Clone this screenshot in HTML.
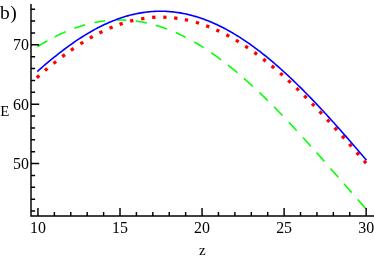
<!DOCTYPE html>
<html><head><meta charset="utf-8"><style>
html,body{margin:0;padding:0;background:#fff;}
svg{display:block;will-change:transform;}
text{font-family:"Liberation Serif",serif;fill:#000;}
</style></head><body>
<svg width="374" height="259" viewBox="0 0 374 259">
<rect width="374" height="259" fill="#fff"/>

<path d="M37.40,46.75 L39.05,45.72 L40.70,44.70 L42.35,43.71 L44.00,42.73 L45.65,41.77 L47.30,40.83 M54.60,36.91 L56.19,36.10 L57.77,35.32 L59.36,34.56 L60.94,33.81 L62.53,33.08 L64.11,32.37 L65.70,31.69 M74.40,28.24 L75.93,27.70 L77.46,27.17 L78.99,26.66 L80.51,26.17 L82.04,25.70 L83.57,25.25 L85.10,24.81 M94.50,22.55 L96.04,22.24 L97.59,21.96 L99.13,21.69 L100.67,21.45 L102.21,21.22 L103.76,21.01 L105.30,20.82 M117.00,20.02 L118.57,19.99 L120.13,19.99 L121.70,20.01 L123.27,20.04 L124.83,20.10 L126.40,20.18 M135.80,21.05 L137.39,21.27 L138.97,21.51 L140.56,21.76 L142.14,22.04 L143.73,22.34 L145.31,22.66 L146.90,23.00 M155.70,25.24 L157.31,25.71 L158.93,26.21 L160.54,26.73 L162.16,27.26 L163.77,27.82 L165.39,28.40 L167.00,28.99 M175.70,32.55 L177.37,33.29 L179.03,34.06 L180.70,34.85 L182.37,35.65 L184.03,36.48 L185.70,37.33 M194.10,41.89 L195.70,42.82 L197.30,43.76 L198.90,44.72 L200.50,45.70 L202.10,46.70 L203.70,47.71 M211.30,52.75 L212.93,53.88 L214.57,55.03 L216.20,56.20 L217.83,57.38 L219.47,58.58 L221.10,59.79 M228.00,65.10 L229.57,66.34 L231.13,67.60 L232.70,68.87 L234.27,70.16 L235.83,71.46 L237.40,72.77 M243.90,78.35 L245.68,79.92 L247.46,81.50 L249.24,83.10 L251.02,84.72 L252.80,86.35 M259.40,92.52 L261.10,94.15 L262.80,95.78 L264.50,97.43 L266.20,99.09 L267.90,100.76 M274.00,106.85 L275.68,108.55 L277.36,110.27 L279.04,111.99 L280.72,113.72 L282.40,115.47 M288.80,122.19 L290.38,123.87 L291.96,125.56 L293.54,127.25 L295.12,128.95 L296.70,130.66 M303.00,137.53 L304.56,139.24 L306.12,140.96 L307.68,142.69 L309.24,144.42 L310.80,146.16 M316.50,152.54 L318.08,154.31 L319.66,156.09 L321.24,157.88 L322.82,159.67 L324.40,161.46 M330.50,168.39 L332.06,170.17 L333.62,171.95 L335.18,173.73 L336.74,175.52 L338.30,177.30 M344.00,183.82 L345.54,185.58 L347.08,187.34 L348.62,189.11 L350.16,190.87 L351.70,192.63 M357.80,199.58 L359.42,201.43 L361.04,203.27 L362.66,205.10 L364.28,206.94 L365.90,208.77" fill="none" stroke="#00ff00" stroke-width="1.55"/>
<rect x="-1.65" y="-1.65" width="3.3" height="3.3" fill="#ff0000" transform="translate(38.05,76.59) rotate(-41.5)"/>
<rect x="-1.65" y="-1.65" width="3.3" height="3.3" fill="#ff0000" transform="translate(46.20,69.54) rotate(-40.2)"/>
<rect x="-1.65" y="-1.65" width="3.3" height="3.3" fill="#ff0000" transform="translate(54.80,62.45) rotate(-38.7)"/>
<rect x="-1.65" y="-1.65" width="3.3" height="3.3" fill="#ff0000" transform="translate(63.60,55.62) rotate(-36.9)"/>
<rect x="-1.65" y="-1.65" width="3.3" height="3.3" fill="#ff0000" transform="translate(72.30,49.33) rotate(-34.9)"/>
<rect x="-1.65" y="-1.65" width="3.3" height="3.3" fill="#ff0000" transform="translate(81.80,43.01) rotate(-32.3)"/>
<rect x="-1.65" y="-1.65" width="3.3" height="3.3" fill="#ff0000" transform="translate(91.30,37.32) rotate(-29.5)"/>
<rect x="-1.65" y="-1.65" width="3.3" height="3.3" fill="#ff0000" transform="translate(100.90,32.23) rotate(-26.3)"/>
<rect x="-1.65" y="-1.65" width="3.3" height="3.3" fill="#ff0000" transform="translate(111.10,27.60) rotate(-22.5)"/>
<rect x="-1.65" y="-1.65" width="3.3" height="3.3" fill="#ff0000" transform="translate(121.10,23.85) rotate(-18.5)"/>
<rect x="-1.65" y="-1.65" width="3.3" height="3.3" fill="#ff0000" transform="translate(131.70,20.78) rotate(-13.9)"/>
<rect x="-1.65" y="-1.65" width="3.3" height="3.3" fill="#ff0000" transform="translate(142.80,18.55) rotate(-8.7)"/>
<rect x="-1.65" y="-1.65" width="3.3" height="3.3" fill="#ff0000" transform="translate(153.80,17.37) rotate(-3.5)"/>
<rect x="-1.65" y="-1.65" width="3.3" height="3.3" fill="#ff0000" transform="translate(164.90,17.22) rotate(1.9)"/>
<rect x="-1.65" y="-1.65" width="3.3" height="3.3" fill="#ff0000" transform="translate(175.80,18.08) rotate(7.1)"/>
<rect x="-1.65" y="-1.65" width="3.3" height="3.3" fill="#ff0000" transform="translate(186.50,19.90) rotate(12.1)"/>
<rect x="-1.65" y="-1.65" width="3.3" height="3.3" fill="#ff0000" transform="translate(197.50,22.76) rotate(16.9)"/>
<rect x="-1.65" y="-1.65" width="3.3" height="3.3" fill="#ff0000" transform="translate(207.70,26.28) rotate(21.1)"/>
<rect x="-1.65" y="-1.65" width="3.3" height="3.3" fill="#ff0000" transform="translate(217.80,30.58) rotate(24.9)"/>
<rect x="-1.65" y="-1.65" width="3.3" height="3.3" fill="#ff0000" transform="translate(227.80,35.60) rotate(28.4)"/>
<rect x="-1.65" y="-1.65" width="3.3" height="3.3" fill="#ff0000" transform="translate(237.30,41.06) rotate(31.3)"/>
<rect x="-1.65" y="-1.65" width="3.3" height="3.3" fill="#ff0000" transform="translate(246.60,47.01) rotate(33.9)"/>
<rect x="-1.65" y="-1.65" width="3.3" height="3.3" fill="#ff0000" transform="translate(255.70,53.41) rotate(36.2)"/>
<rect x="-1.65" y="-1.65" width="3.3" height="3.3" fill="#ff0000" transform="translate(264.50,60.10) rotate(38.2)"/>
<rect x="-1.65" y="-1.65" width="3.3" height="3.3" fill="#ff0000" transform="translate(272.90,66.92) rotate(39.9)"/>
<rect x="-1.65" y="-1.65" width="3.3" height="3.3" fill="#ff0000" transform="translate(281.40,74.23) rotate(41.5)"/>
<rect x="-1.65" y="-1.65" width="3.3" height="3.3" fill="#ff0000" transform="translate(289.40,81.47) rotate(42.8)"/>
<rect x="-1.65" y="-1.65" width="3.3" height="3.3" fill="#ff0000" transform="translate(297.60,89.22) rotate(44.0)"/>
<rect x="-1.65" y="-1.65" width="3.3" height="3.3" fill="#ff0000" transform="translate(305.40,96.87) rotate(45.0)"/>
<rect x="-1.65" y="-1.65" width="3.3" height="3.3" fill="#ff0000" transform="translate(313.20,104.78) rotate(45.8)"/>
<rect x="-1.65" y="-1.65" width="3.3" height="3.3" fill="#ff0000" transform="translate(320.70,112.61) rotate(46.6)"/>
<rect x="-1.65" y="-1.65" width="3.3" height="3.3" fill="#ff0000" transform="translate(328.30,120.73) rotate(47.2)"/>
<rect x="-1.65" y="-1.65" width="3.3" height="3.3" fill="#ff0000" transform="translate(335.80,128.92) rotate(47.8)"/>
<rect x="-1.65" y="-1.65" width="3.3" height="3.3" fill="#ff0000" transform="translate(343.20,137.15) rotate(48.2)"/>
<rect x="-1.65" y="-1.65" width="3.3" height="3.3" fill="#ff0000" transform="translate(350.40,145.27) rotate(48.6)"/>
<rect x="-1.65" y="-1.65" width="3.3" height="3.3" fill="#ff0000" transform="translate(357.80,153.71) rotate(48.9)"/>
<rect x="-1.65" y="-1.65" width="3.3" height="3.3" fill="#ff0000" transform="translate(365.00,162.00) rotate(49.1)"/>
<path d="M37.30,71.53 L38.80,70.20 L40.31,68.88 L41.81,67.57 L43.31,66.27 L44.82,64.98 L46.32,63.70 L47.82,62.44 L49.33,61.18 L50.83,59.93 L52.33,58.70 L53.84,57.47 L55.34,56.26 L56.84,55.06 L58.34,53.88 L59.85,52.70 L61.35,51.54 L62.85,50.39 L64.36,49.26 L65.86,48.14 L67.36,47.03 L68.87,45.94 L70.37,44.86 L71.87,43.79 L73.38,42.74 L74.88,41.71 L76.38,40.69 L77.89,39.68 L79.39,38.69 L80.89,37.72 L82.40,36.76 L83.90,35.81 L85.40,34.89 L86.91,33.97 L88.41,33.08 L89.91,32.20 L91.42,31.34 L92.92,30.49 L94.42,29.66 L95.92,28.85 L97.43,28.05 L98.93,27.28 L100.43,26.51 L101.94,25.77 L103.44,25.04 L104.94,24.34 L106.45,23.65 L107.95,22.97 L109.45,22.32 L110.96,21.68 L112.46,21.06 L113.96,20.46 L115.47,19.88 L116.97,19.32 L118.47,18.77 L119.98,18.24 L121.48,17.74 L122.98,17.25 L124.49,16.78 L125.99,16.32 L127.49,15.89 L128.99,15.48 L130.50,15.08 L132.00,14.71 L133.50,14.35 L135.01,14.01 L136.51,13.69 L138.01,13.39 L139.52,13.11 L141.02,12.85 L142.52,12.61 L144.03,12.39 L145.53,12.19 L147.03,12.00 L148.54,11.84 L150.04,11.69 L151.54,11.57 L153.05,11.46 L154.55,11.38 L156.05,11.31 L157.56,11.26 L159.06,11.24 L160.56,11.23 L162.07,11.24 L163.57,11.27 L165.07,11.32 L166.57,11.39 L168.08,11.48 L169.58,11.59 L171.08,11.71 L172.59,11.86 L174.09,12.03 L175.59,12.21 L177.10,12.42 L178.60,12.64 L180.10,12.89 L181.61,13.15 L183.11,13.43 L184.61,13.73 L186.12,14.05 L187.62,14.39 L189.12,14.75 L190.63,15.12 L192.13,15.52 L193.63,15.93 L195.14,16.36 L196.64,16.82 L198.14,17.29 L199.65,17.77 L201.15,18.28 L202.65,18.81 L204.15,19.35 L205.66,19.91 L207.16,20.49 L208.66,21.09 L210.17,21.70 L211.67,22.34 L213.17,22.99 L214.68,23.66 L216.18,24.34 L217.68,25.05 L219.19,25.77 L220.69,26.51 L222.19,27.27 L223.70,28.04 L225.20,28.83 L226.70,29.64 L228.21,30.46 L229.71,31.30 L231.21,32.16 L232.72,33.03 L234.22,33.92 L235.72,34.83 L237.23,35.75 L238.73,36.69 L240.23,37.65 L241.73,38.62 L243.24,39.61 L244.74,40.61 L246.24,41.63 L247.75,42.66 L249.25,43.71 L250.75,44.77 L252.26,45.85 L253.76,46.94 L255.26,48.05 L256.77,49.17 L258.27,50.31 L259.77,51.46 L261.28,52.63 L262.78,53.81 L264.28,55.00 L265.79,56.21 L267.29,57.43 L268.79,58.67 L270.30,59.91 L271.80,61.17 L273.30,62.45 L274.81,63.74 L276.31,65.03 L277.81,66.35 L279.31,67.67 L280.82,69.01 L282.32,70.36 L283.82,71.72 L285.33,73.09 L286.83,74.48 L288.33,75.87 L289.84,77.28 L291.34,78.70 L292.84,80.13 L294.35,81.57 L295.85,83.02 L297.35,84.49 L298.86,85.96 L300.36,87.44 L301.86,88.94 L303.37,90.44 L304.87,91.95 L306.37,93.47 L307.88,95.01 L309.38,96.55 L310.88,98.10 L312.38,99.66 L313.89,101.23 L315.39,102.80 L316.89,104.39 L318.40,105.98 L319.90,107.58 L321.40,109.19 L322.91,110.81 L324.41,112.44 L325.91,114.07 L327.42,115.71 L328.92,117.36 L330.42,119.01 L331.93,120.67 L333.43,122.34 L334.93,124.01 L336.44,125.69 L337.94,127.38 L339.44,129.07 L340.95,130.77 L342.45,132.47 L343.95,134.18 L345.46,135.89 L346.96,137.61 L348.46,139.34 L349.96,141.07 L351.47,142.80 L352.97,144.54 L354.47,146.28 L355.98,148.03 L357.48,149.78 L358.98,151.53 L360.49,153.29 L361.99,155.05 L363.49,156.81 L365.00,158.58 L366.50,160.35" fill="none" stroke="#0000ff" stroke-width="1.6"/>
<path d="M31.0,4.0 L31.0,216.05 M30.25,216.05 L374,216.05 M31.0,211.07 L35.1,211.07 M31.0,199.19 L35.1,199.19 M31.0,187.32 L35.1,187.32 M31.0,175.44 L35.1,175.44 M31.0,163.57 L39.2,163.57 M31.0,151.70 L35.1,151.70 M31.0,139.82 L35.1,139.82 M31.0,127.95 L35.1,127.95 M31.0,116.07 L35.1,116.07 M31.0,104.20 L39.2,104.20 M31.0,92.33 L35.1,92.33 M31.0,80.45 L35.1,80.45 M31.0,68.58 L35.1,68.58 M31.0,56.70 L35.1,56.70 M31.0,44.83 L39.2,44.83 M31.0,32.96 L35.1,32.96 M31.0,21.08 L35.1,21.08 M31.0,9.21 L35.1,9.21 M37.96,216.05 L37.96,207.9 M54.37,216.05 L54.37,212.05 M70.78,216.05 L70.78,212.05 M87.19,216.05 L87.19,212.05 M103.60,216.05 L103.60,212.05 M120.01,216.05 L120.01,207.9 M136.42,216.05 L136.42,212.05 M152.83,216.05 L152.83,212.05 M169.24,216.05 L169.24,212.05 M185.65,216.05 L185.65,212.05 M202.06,216.05 L202.06,207.9 M218.47,216.05 L218.47,212.05 M234.88,216.05 L234.88,212.05 M251.29,216.05 L251.29,212.05 M267.70,216.05 L267.70,212.05 M284.11,216.05 L284.11,207.9 M300.52,216.05 L300.52,212.05 M316.93,216.05 L316.93,212.05 M333.34,216.05 L333.34,212.05 M349.75,216.05 L349.75,212.05 M366.16,216.05 L366.16,207.9" fill="none" stroke="#000" stroke-width="1.45"/>
<text x="29.0" y="169.17" font-size="15.9" text-anchor="end">50</text>
<text x="29.0" y="109.80" font-size="15.9" text-anchor="end">60</text>
<text x="29.0" y="50.43" font-size="15.9" text-anchor="end">70</text>
<text x="37.96" y="233" font-size="15.9" text-anchor="middle">10</text>
<text x="120.01" y="233" font-size="15.9" text-anchor="middle">15</text>
<text x="202.06" y="233" font-size="15.9" text-anchor="middle">20</text>
<text x="284.11" y="233" font-size="15.9" text-anchor="middle">25</text>
<text x="366.16" y="233" font-size="15.9" text-anchor="middle">30</text>
<text x="0" y="19.4" font-size="19.5">b</text><text x="10.2" y="19.4" font-size="19.5">)</text>
<text x="0.3" y="115.7" font-size="14.9">E</text>
<text x="199.1" y="254.9" font-size="15">z</text>
</svg></body></html>
